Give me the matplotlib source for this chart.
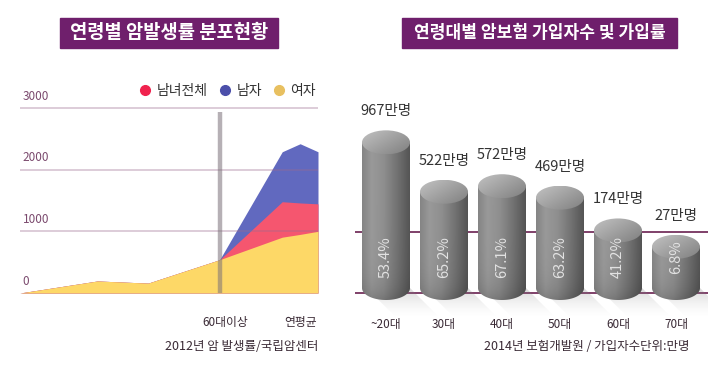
import numpy as np
import matplotlib.pyplot as plt
from matplotlib.patches import Rectangle, Ellipse, PathPatch, Polygon
from matplotlib.path import Path
from matplotlib.lines import Line2D

plt.rcParams['font.family'] = ['Noto Sans CJK KR', 'DejaVu Sans']

# left chart: cancer incidence by age
age_pos = [0, 2.6, 4.3, 6.7, 8.8, 9.4, 10]
female = [0, 195, 160, 540, 905, 950, 1000]
total = [0, 195, 160, 540, 1480, 1460, 1445]
male = [0, 195, 160, 540, 2290, 2420, 2290]
split_pos = 6.7
left_ticks = [0, 1000, 2000, 3000]
left_xlabels = ['60대이상', '연평균']
left_xlabel_pos = [6.9, 9.43]
series_names = ['남녀전체', '남자', '여자']

# right chart: insurance members and rate by age group
groups = ['~20대', '30대', '40대', '50대', '60대', '70대']
members = [967, 522, 572, 469, 174, 27]
rates = [53.4, 65.2, 67.1, 63.2, 41.2, 6.8]

W, H = 720, 373


def fx(px):
    return px / W


def fy(py):
    return 1 - py / H


fig = plt.figure(figsize=(7.2, 3.73), dpi=100)
fig.patch.set_facecolor('white')

# title boxes
purple = '#6f1f6c'
for x0, x1, txt, fs in [(60, 278, '연령별 암발생률 분포현황', 13.5),
                        (402, 677, '연령대별 암보험 가입자수 및 가입률', 12.3)]:
    fig.patches.append(Rectangle((fx(x0), fy(48)), fx(x1) - fx(x0), fy(18) - fy(48),
                                 transform=fig.transFigure, color=purple, zorder=0))
    fig.text(fx((x0 + x1) / 2), fy(33), txt, ha='center', va='center',
             color='white', fontsize=fs, fontweight='bold')

# ---------------- left chart ----------------
axL = fig.add_axes([fx(20), fy(293), fx(318) - fx(20), fy(101.8) - fy(293)])
axL.set_xlim(0, 10)
axL.set_ylim(0, 3100)
axL.axis('off')

axL.fill_between(age_pos, male, color='#6169bf', lw=0, zorder=1)
axL.fill_between(age_pos, total, color='#f5566f', lw=0, zorder=2)
axL.fill_between(age_pos, female, color='#fdd867', lw=0, zorder=3)

for t in left_ticks:
    if t > 0:
        axL.axhline(t, color='#9b6a8e', alpha=0.4, lw=1.2, zorder=4)
    axL.annotate(str(t), xy=(0, t), xytext=(2, 8.6), textcoords='offset points',
                 ha='left', va='center', fontsize=8.5, color='#7b4a6e')

axL.vlines(split_pos, 0, 2940, color='#7a7078', alpha=0.55, lw=3.2, zorder=5)

for p, lab in zip(left_xlabel_pos, left_xlabels):
    axL.text(p, -0.155, lab, transform=axL.get_xaxis_transform(), ha='center',
             va='center', fontsize=8.5, color='#3a2a35')
fig.text(fx(318), fy(347), '2012년 암 발생률/국립암센터', ha='right', va='center',
         fontsize=9, color='#3a2a35')

handles = [Line2D([], [], marker='o', ls='', color=c, markersize=7, label=n)
           for c, n in zip(['#f0224e', '#4b4faa', '#e8c060'], series_names)]
fig.legend(handles=handles, loc='center right', bbox_to_anchor=(fx(316), fy(91)),
           ncol=3, frameon=False, fontsize=10, handletextpad=0.35,
           columnspacing=0.7, borderpad=0, borderaxespad=0, handlelength=1.0,
           labelcolor='#333333')

# ---------------- right chart ----------------
px_per_unit = 58.0
val_per_px = 9.0
base = -560
ry = 12 * val_per_px
bw = 48 / px_per_unit

axR = fig.add_axes([fx(355), fy(322), fx(708) - fx(355), fy(95) - fy(322)])
axR.axis('off')

for yf in [0.396, 0.128]:
    axR.plot([0, 1], [yf, yf], transform=axR.transAxes, color='#6a2050', lw=1.2, zorder=0.5)

prof_t = [0, 0.2, 0.45, 0.75, 1.0]
prof_b = [0.52, 0.60, 0.56, 0.44, 0.33]
hgrad = np.interp(np.linspace(0, 1, 200), prof_t, prof_b)

for i, (v, r) in enumerate(zip(members, rates)):
    xl, xr = i - bw / 2, i + bw / 2
    yt = v - ry
    yb = base + ry

    # shadow
    L = 30
    dx, dy = L / px_per_unit, L * val_per_px
    shadow = Polygon([(xl + 0.08, yb), (xr, yb), (xr + dx, yb - dy), (xl + dx + 0.08, yb - dy)],
                     closed=True, fc='none', ec='none')
    axR.add_patch(shadow)
    gy = np.linspace(1, 0, 60)[:, None] * np.ones((1, 60))
    sh = np.zeros((60, 60, 4))
    sh[..., :3] = 0.5
    sh[..., 3] = 0.3 * gy ** 1.6
    im = axR.imshow(sh, extent=(xl, xr + dx, yb - dy, yb), aspect='auto',
                    zorder=1, interpolation='bilinear')
    im.set_clip_path(shadow)

    # body
    th = np.linspace(np.pi, 2 * np.pi, 60)
    arc = np.column_stack([i + bw / 2 * np.cos(th), yb + ry * np.sin(th)])
    verts = np.vstack([[xl, yt], arc, [xr, yt], [xl, yt]])
    body = PathPatch(Path(verts, closed=True), fc='none', ec='none')
    axR.add_patch(body)
    hy = np.linspace(yt, base, 150)
    shade = 1 - 0.18 * np.exp(-(hy - base) / (14 * val_per_px))
    body_img = shade[:, None] * hgrad[None, :]
    im = axR.imshow(body_img, cmap='gray', vmin=0, vmax=1, extent=(xl, xr, base, yt),
                    aspect='auto', zorder=3, interpolation='bilinear')
    im.set_clip_path(body)

    # top face
    top = Ellipse((i, yt), bw, 2 * ry, fc='none', ec='none')
    axR.add_patch(top)
    u, w = np.meshgrid(np.linspace(-1, 1, 80), np.linspace(1, -1, 80))
    tb = 0.63 - 0.07 * u + 0.06 * w
    im = axR.imshow(tb, cmap='gray', vmin=0, vmax=1,
                    extent=(xl, xr, yt - ry, yt + ry), aspect='auto', zorder=4,
                    interpolation='bilinear')
    im.set_clip_path(top)

    axR.annotate(f'{v}만명', xy=(i, v), xytext=(0, 19 * 0.72), textcoords='offset points',
                 ha='center', va='center', fontsize=10.5, color='#333333', zorder=6)
    axR.text(i, 0.286, f'{r:.1f}%', transform=axR.get_xaxis_transform(), rotation=90,
             ha='center', va='center', fontsize=10.5, color='#e2e2e2', zorder=6)
    axR.text(i, -0.013, groups[i], transform=axR.get_xaxis_transform(), ha='center',
             va='center', fontsize=8.5, color='#3a2a35')

axR.set_xlim(-31 / px_per_unit, 322 / px_per_unit)
axR.set_ylim(base - 22 * val_per_px, base + 205 * val_per_px)

fig.text(fx(690), fy(346), '2014년 보험개발원 / 가입자수단위:만명', ha='right', va='center',
         fontsize=9, color='#3a2a35')

fig.savefig('out.png', dpi=100)
